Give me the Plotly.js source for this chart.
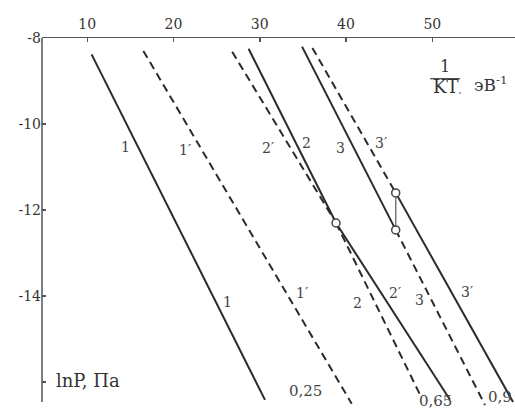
<!DOCTYPE html>
<html>
<head>
<meta charset="utf-8">
<script src="https://cdn.plot.ly/plotly-3.0.1.min.js"></script>
<style>html,body{margin:0;padding:0;background:#fff;}#chart{width:515px;height:419px;}</style>
</head>
<body>
<div id="chart"></div>
<script>
// x = 1/kT (eV^-1), y = ln P (Pa)
const xTicks = [10, 20, 30, 40, 50];
const yTicks = [-8, -10, -12, -14, -16];
const yTickText = ["-8", "-10", "-12", "-14", ""];

// curve 1 (solid) and 1' (dashed)
const c1X = [10.5, 30.6],   c1Y = [-8.38, -16.41];
const c1pX = [16.5, 40.66], c1pY = [-8.30, -16.50];
// curve 2 group: upper parts meet at a point, then continue
const c2UpX = [28.7, 38.84],  c2UpY = [-8.25, -12.30];   // solid upper
const c2pUpX = [26.8, 38.84], c2pUpY = [-8.32, -12.30];  // dashed upper
const c2LoX = [38.84, 48.77], c2LoY = [-12.30, -16.37];  // dashed lower
const c2pLoX = [38.84, 52.05], c2pLoY = [-12.30, -16.41];// solid lower
// curve 3 group with a jump
const c3UpX = [34.9, 45.76],  c3UpY = [-8.20, -12.46];   // solid upper
const c3pUpX = [36.1, 45.76], c3pUpY = [-8.23, -11.60];  // dashed upper
const c3LoX = [45.76, 56.11], c3LoY = [-12.46, -16.53];  // dashed lower
const c3pLoX = [45.76, 59.36], c3pLoY = [-11.60, -16.46];// solid lower
const jumpX = [45.76, 45.76], jumpY = [-11.60, -12.46];
const ptX = [38.84, 45.76, 45.76], ptY = [-12.30, -11.60, -12.46];

// curve labels
const labText = ["1", "1′", "2′", "2", "3", "3′", "1", "1′", "2", "2′", "3", "3′"];
const labX = [14.39, 21.33, 30.95, 35.47, 39.30, 44.05, 26.31, 34.89, 41.38, 45.67, 48.57, 54.02];
const labY = [-10.53, -10.60, -10.55, -10.44, -10.55, -10.44, -14.13, -13.92, -14.15, -13.92, -14.08, -13.90];
// composition labels at line ends
const compText = ["0,25", "0,65", "0,9"];
const compX = [35.27, 50.36, 57.85];
const compY = [-16.46, -16.70, -16.59];

const solid = {color: '#2b2b2b', width: 2};
const dashed = {color: '#2b2b2b', width: 2, dash: '8px,5px'};
function seg(x, y, line) {
  return {x: x, y: y, type: 'scatter', mode: 'lines', line: line, hoverinfo: 'skip', showlegend: false};
}
const traces = [
  seg(c1X, c1Y, solid), seg(c1pX, c1pY, dashed),
  seg(c2UpX, c2UpY, solid), seg(c2pUpX, c2pUpY, dashed),
  seg(c2LoX, c2LoY, dashed), seg(c2pLoX, c2pLoY, solid),
  seg(c3UpX, c3UpY, solid), seg(c3pUpX, c3pUpY, dashed),
  seg(c3LoX, c3LoY, dashed), seg(c3pLoX, c3pLoY, solid),
  seg(jumpX, jumpY, {color: '#777', width: 1.5}),
  {x: ptX, y: ptY, type: 'scatter', mode: 'markers', showlegend: false, hoverinfo: 'skip',
   marker: {symbol: 'circle', size: 8, color: '#fff', line: {color: '#444', width: 1.5}}}
];

const serif = 'DejaVu Serif';
const yMin = -16.6, yMax = -8;
function paperY(v) { return (v - yMin) / (yMax - yMin); }
const annotations = [];
labText.forEach((t, i) => annotations.push({x: labX[i], y: labY[i], text: t, showarrow: false,
  font: {family: serif, size: 14, color: '#444'}}));
compText.forEach((t, i) => annotations.push({x: compX[i], y: paperY(compY[i]), yref: 'paper', text: t, showarrow: false,
  font: {family: serif, size: 15, color: '#444'}}));
annotations.push({x: 51.49, y: -8.67, text: '1', showarrow: false, font: {family: serif, size: 16, color: '#333'}});
annotations.push({x: 49.8, y: -9.13, xanchor: 'left', text: 'KT<span style="font-size:10px">,</span>', showarrow: false, font: {family: serif, size: 18, color: '#333'}});
annotations.push({x: 54.6, y: -9.08, xanchor: 'left', text: 'эВ<sup>-1</sup>', showarrow: false, font: {family: serif, size: 17, color: '#333'}});
annotations.push({x: 10.08, y: -15.97, text: 'lnP, Па', showarrow: false, font: {family: serif, size: 18, color: '#333'}});

const layout = {
  width: 515, height: 419,
  margin: {l: 42, r: 0, t: 38, b: 11, pad: 0},
  paper_bgcolor: '#fff', plot_bgcolor: '#fff',
  font: {family: serif, size: 14, color: '#333'},
  showlegend: false,
  xaxis: {side: 'top', range: [4.75, 59.59], tickvals: xTicks, ticks: 'inside', ticklen: 4,
    tickwidth: 1.5, tickcolor: '#555', showline: true, linecolor: '#555', linewidth: 1.5,
    showgrid: false, zeroline: false, tickfont: {family: serif, size: 14, color: '#333'}, ticklabelstandoff: 2},
  yaxis: {range: [yMin, yMax], tickvals: yTicks, ticktext: yTickText, ticks: 'inside', ticklen: 4,
    tickwidth: 1.5, tickcolor: '#555', showline: false, showgrid: false, zeroline: false,
    tickfont: {family: serif, size: 14, color: '#333'}},
  shapes: [
    {type: 'line', xref: 'paper', yref: 'y', x0: 0, x1: 0, y0: -16.46, y1: -8, line: {color: '#555', width: 1.5}},
    {type: 'line', xref: 'x', yref: 'y', x0: 49.75, x1: 53.22, y0: -8.947, y1: -8.947, line: {color: '#333', width: 1.2}}
  ],
  annotations: annotations
};
Plotly.newPlot('chart', traces, layout, {displayModeBar: false, staticPlot: true});
</script>
</body>
</html>
